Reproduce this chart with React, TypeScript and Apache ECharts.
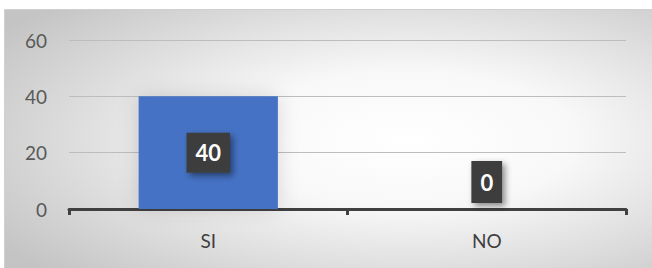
import React, { useEffect, useRef } from "react";
import * as echarts from "echarts";

const categories = ["SI", "NO"];
const values = [40, 0];
const yTicks = { min: 0, max: 60, interval: 20 };

export default function App() {
  const ref = useRef<HTMLDivElement>(null);
  useEffect(() => {
    const chart = echarts.init(ref.current!, null, { renderer: "svg" });
    const labelStyle = {
      show: true,
      color: "#ffffff",
      fontFamily: "Lato",
      fontWeight: "bold",
      fontSize: 22,
      lineHeight: 24,
      backgroundColor: "#3d3d3d",
      padding: [8, 9, 8, 9],
      shadowColor: "rgba(0,0,0,0.45)",
      shadowBlur: 6,
      shadowOffsetX: 3,
      shadowOffsetY: 3,
    };
    chart.setOption({
      animation: false,
      graphic: [
        {
          type: "rect",
          left: 4,
          top: 9,
          shape: { width: 648, height: 259 },
          z: -10,
          style: {
            fill: new echarts.graphic.RadialGradient(0.62, 0.5, 0.75, [
              { offset: 0, color: "#ffffff" },
              { offset: 0.35, color: "#f8f8f8" },
              { offset: 1, color: "#c4c4c4" },
            ]),
            stroke: "#d0d0d0",
            lineWidth: 1,
          },
        },
      ],
      grid: { left: 69, right: 26, top: 40, bottom: 59, containLabel: false },
      xAxis: {
        type: "category",
        data: categories,
        axisLine: { lineStyle: { color: "#404040", width: 3 } },
        axisTick: { show: true, length: 6, lineStyle: { color: "#404040", width: 3 } },
        axisLabel: { color: "#404040", fontSize: 19, fontFamily: "Lato", margin: 22 },
      },
      yAxis: {
        type: "value",
        min: yTicks.min,
        max: yTicks.max,
        interval: yTicks.interval,
        axisLine: { show: false },
        axisTick: { show: false },
        axisLabel: { color: "#595959", fontSize: 19, fontFamily: "Lato", margin: 22 },
        splitLine: { lineStyle: { color: "#bdbdbd", width: 1 } },
      },
      series: [
        {
          type: "bar",
          barWidth: "50%",
          itemStyle: {
            color: "#4472C4",
            shadowColor: "rgba(0,0,0,0.14)",
            shadowBlur: 20,
          },
          label: { ...labelStyle, position: "inside" },
          data: values.map((v, i) =>
            i === 1
              ? { value: v, label: { ...labelStyle, padding: [9, 9, 9, 9], position: "top", distance: 6 } }
              : v
          ),
        },
      ],
    });
    return () => chart.dispose();
  }, []);
  return (
    <div style={{ position: "absolute", left: 0, top: 0, width: 652, height: 268, background: "#ffffff" }}>
      <div ref={ref} style={{ width: 652, height: 268 }} />
    </div>
  );
}
